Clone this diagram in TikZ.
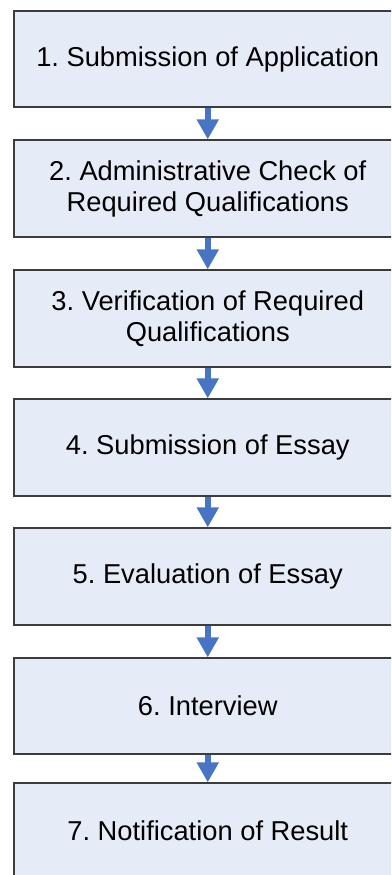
\documentclass[tikz,border=0pt]{standalone}
\usepackage{fontspec}
\setmainfont{Liberation Sans}
\usetikzlibrary{arrows.meta}
\definecolor{boxfill}{HTML}{E6ECF7}
\definecolor{boxline}{HTML}{3C3C3C}
\definecolor{arrowblue}{HTML}{4775C4}
\frenchspacing
\begin{document}
\begin{tikzpicture}[x=1pt,y=-1pt,
  stepbox/.style={draw=boxline, fill=boxfill, line width=1.3pt, rectangle,
    minimum width=387.5pt, inner sep=0pt, align=center,
    font=\fontsize{27.3}{31}\selectfont\frenchspacing},
  flow/.style={draw=arrowblue, line width=6pt,
    -{Triangle[width=21pt,length=20pt]}, shorten <=0.6pt}]
\useasboundingbox (0,0) rectangle (391,875);
\clip (0,0) rectangle (391,875);
\fill[white] (0,0) rectangle (391,875);
\node[stepbox, minimum height=96pt] (b1) at (207.75,59) {1. Submission of Application};
\node[stepbox, minimum height=97pt] (b2) at (207.75,188.5) {2. Administrative Check of\\Required Qualifications};
\node[stepbox, minimum height=97pt] (b3) at (207.75,318.5) {3. Verification of Required\\Qualifications};
\node[stepbox, minimum height=97pt] (b4) at (207.75,447.5) {4. Submission of Essay};
\node[stepbox, minimum height=97pt] (b5) at (207.75,576.5) {5. Evaluation of Essay};
\node[stepbox, minimum height=96pt] (b6) at (207.75,706) {6. Interview};
\node[stepbox, minimum height=96pt] (b7) at (207.75,831) {7. Notification of Result};
\draw[flow] (b1.south) -- (b2.north);
\draw[flow] (b2.south) -- (b3.north);
\draw[flow] (b3.south) -- (b4.north);
\draw[flow] (b4.south) -- (b5.north);
\draw[flow] (b5.south) -- (b6.north);
\draw[flow] (b6.south) -- (b7.north);
\end{tikzpicture}
\end{document}
